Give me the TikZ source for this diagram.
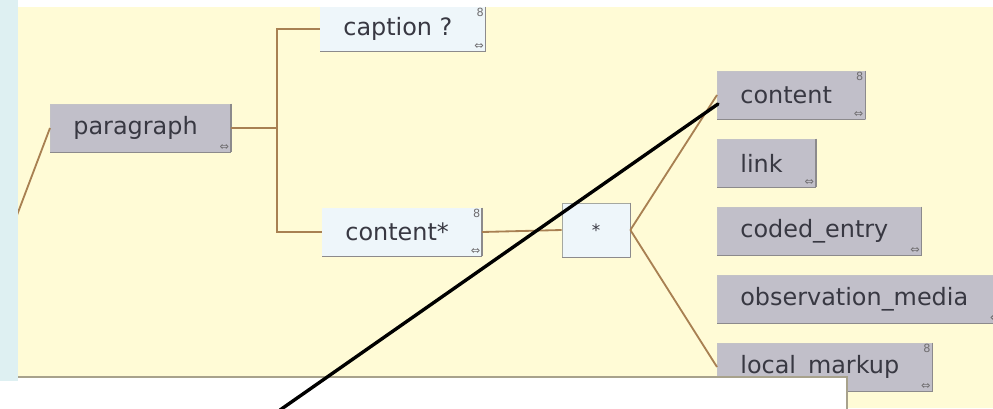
\documentclass[tikz,border=0pt]{standalone}
\usepackage{fontspec}
\setmainfont{DejaVu Sans}
\usepackage{tikz}
\usetikzlibrary{positioning}
\definecolor{paneyellow}{RGB}{255,251,214}
\definecolor{sidecyan}{RGB}{222,240,242}
\definecolor{elemgray}{RGB}{193,191,201}
\definecolor{elemedge}{RGB}{140,138,140}
\definecolor{optblue}{RGB}{238,246,250}
\definecolor{optedge}{RGB}{165,168,160}
\definecolor{treetan}{RGB}{168,128,82}
\definecolor{labeldark}{RGB}{56,56,66}
\definecolor{framegray}{RGB}{168,162,140}
\tikzset{
  box/.style={rectangle, draw=elemgray!80!black!60, fill=elemgray,
    minimum height=1.2cm, inner ysep=0pt,
    font=\fontsize{17}{20}\selectfont, text=labeldark, line width=0.5pt,
    append after command={
      (\tikzlastnode.north east) edge[edgeline] (\tikzlastnode.south east)
      (\tikzlastnode.south east) edge[edgeline] (\tikzlastnode.south west)}},
  elem/.style={box, anchor=west, inner xsep=0.575cm,
    execute at end node=\hspace{0.25cm}},
  optelem/.style={elem, fill=optblue, draw=optblue},
  choicebox/.style={box, fill=optblue, draw=optedge, minimum width=1.7cm,
    minimum height=1.35cm, inner sep=0pt, font=\fontsize{12}{12}\selectfont},
  edgeline/.style={draw=elemedge, line width=1pt},
  icon/.style={font=\fontsize{8}{8}\selectfont, text=elemedge!80!black, inner sep=1.2pt},
  io/.style={label={[icon, anchor=south east]south east:⇔}},
  model/.style={label={[icon, anchor=north east]north east:8}},
  tree/.style={draw=treetan, line width=1.3pt},
  pointer/.style={draw=black, line width=2.4pt, line cap=round}
}
\begin{document}
\begin{tikzpicture}[x=0.025cm, y=-0.025cm]
  \useasboundingbox (0,0) rectangle (993,408);
  \clip (0,0) rectangle (993,408);

  % Panel
  \fill[white] (0,0) rectangle (993,408);
  \fill[paneyellow] (18,7) rectangle (993,408);

  % Element boxes
  \node[elem, io] (paragraph) at (50,128) {paragraph};
  \node[optelem, io, model, minimum height=1.1cm] (caption) at (320,29) {caption ?};
  \node[optelem, io, model] (contents) at (322,232) {content*};
  \node[choicebox] (choice) at (596,230) {*};

  \node[elem, io, model] (content) at (717,95) {content};
  \node[elem, io] (link) at (717,163) {link};
  \node[elem, io] (coded) at (717,231) {coded\_entry};
  \node[elem, io] (obsmedia) at (717,299) {observation\_media};
  \node[elem, io, model] (localmarkup) at (717,367) {local\_markup};

  % Tree lines
  \coordinate (split) at (277,128);
  \coordinate (parent) at (0,260);
  \draw[tree] (paragraph.west) -- (parent);
  \draw[tree] (paragraph.east) -- (split);
  \draw[tree] (split) |- (caption.west);
  \draw[tree] (split) |- (contents.west);
  \draw[tree] (contents.east) -- (choice.west);
  \draw[tree] (choice.east) -- (content.west);
  \draw[tree] (choice.east) -- (localmarkup.west);

  % Callout box over the lower part
  \fill[white] (-1,377) rectangle (847,409);
  \draw[framegray, line width=1.2pt] (18,377) -- (847,377) -- (847,409);

  % Side strip and top edge
  \fill[sidecyan] (0,0) rectangle (18,381);
  \fill[white] (18,0) rectangle (993,6);

  % Pointer
  \coordinate (callout) at (280,410);
  \draw[pointer] (callout) -- ([shift={(1,9)}]content.west);
\end{tikzpicture}
\end{document}
